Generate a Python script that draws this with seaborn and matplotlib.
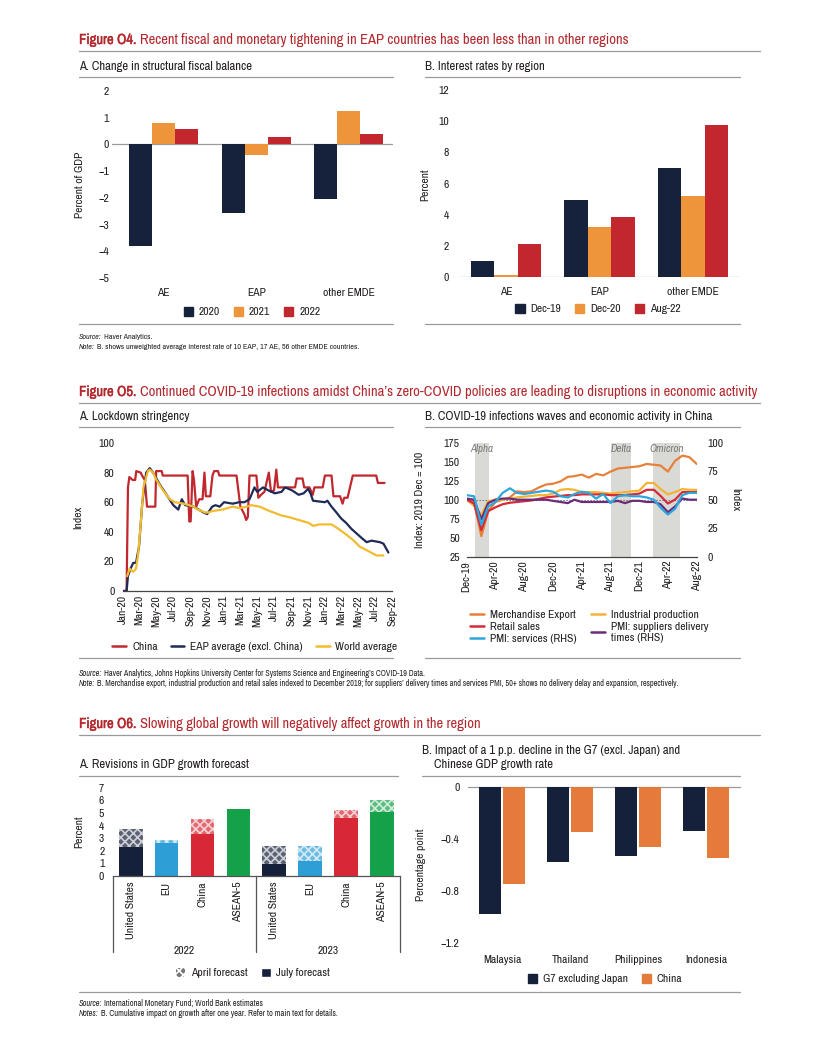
import matplotlib
matplotlib.use('Agg')
from matplotlib import pyplot as plt
from matplotlib import font_manager as fm
from matplotlib import patheffects
import matplotlib.dates as mdates
from matplotlib.patches import Patch
from matplotlib.lines import Line2D
import seaborn as sns
import pandas as pd
import numpy as np

W, H = 816, 1056

# ---- Figure O4 A: change in structural fiscal balance ----
o4a_regions = ['AE', 'EAP', 'other EMDE']
o4a_years = ['2020', '2021', '2022']
o4a_2020 = [-3.8, -2.55, -2.05]
o4a_2021 = [0.8, -0.38, 1.25]
o4a_2022 = [0.57, 0.28, 0.4]

# ---- Figure O4 B: interest rates by region ----
o4b_regions = ['AE', 'EAP', 'other EMDE']
o4b_dates = ['Dec-19', 'Dec-20', 'Aug-22']
o4b_dec19 = [1.0, 4.95, 7.0]
o4b_dec20 = [0.1, 3.2, 5.2]
o4b_aug22 = [2.1, 3.85, 9.75]

# ---- Figure O5 A: lockdown stringency ----
china_dates = ['2020-01-01', '2020-01-14', '2020-01-19', '2020-01-24', '2020-02-05', '2020-02-14',
               '2020-02-18', '2020-03-05', '2020-03-10', '2020-03-20', '2020-03-28', '2020-04-27',
               '2020-04-30', '2020-05-20', '2020-05-24', '2020-08-22', '2020-08-28', '2020-09-02',
               '2020-09-09', '2020-09-14', '2020-09-22', '2020-10-03', '2020-10-15', '2020-10-22',
               '2020-10-27', '2020-11-12', '2020-11-20', '2020-11-26', '2020-12-10', '2020-12-15',
               '2021-02-15', '2021-03-01', '2021-03-15', '2021-03-22', '2021-03-28', '2021-04-03',
               '2021-04-28', '2021-05-05', '2021-05-15', '2021-05-27', '2021-06-12', '2021-06-20',
               '2021-07-01', '2021-07-09', '2021-07-15', '2021-09-15', '2021-09-21', '2021-10-12',
               '2021-10-18', '2021-11-06', '2021-11-18', '2021-11-24', '2021-12-24', '2022-01-01',
               '2022-01-25', '2022-02-01', '2022-02-25', '2022-03-06', '2022-03-12', '2022-03-24',
               '2022-04-12', '2022-07-06', '2022-07-12', '2022-08-05']
china_vals = [0, 0, 70, 77, 75, 75, 81, 80, 78, 75, 57, 57, 81, 81, 78, 78, 47, 47, 81, 75, 57, 62,
              62, 80, 64, 64, 78, 81, 81, 78, 78, 57, 52, 48, 50, 78, 78, 63, 65, 67, 80, 67, 68, 82,
              70, 70, 76, 76, 70, 70, 65, 70, 70, 78, 78, 64, 64, 59, 63, 63, 78, 78, 73, 73]

eap_dates = ['2020-01-01', '2020-01-14', '2020-01-19', '2020-01-28', '2020-02-07', '2020-02-17',
             '2020-02-28', '2020-03-11', '2020-03-25', '2020-04-07', '2020-04-19', '2020-05-13',
             '2020-06-07', '2020-07-01', '2020-07-19', '2020-08-01', '2020-08-13', '2020-09-13',
             '2020-10-19', '2020-11-01', '2020-11-19', '2020-12-01', '2020-12-16', '2021-01-01',
             '2021-02-01', '2021-02-25', '2021-03-16', '2021-03-25', '2021-04-03', '2021-04-21',
             '2021-05-01', '2021-05-22', '2021-06-10', '2021-07-04', '2021-07-28', '2021-08-10',
             '2021-09-04', '2021-09-28', '2021-10-16', '2021-11-01', '2021-11-10', '2021-11-19',
             '2022-01-01', '2022-01-10', '2022-01-25', '2022-02-12', '2022-03-01', '2022-03-19',
             '2022-04-07', '2022-04-25', '2022-05-13', '2022-06-01', '2022-06-19', '2022-07-19',
             '2022-08-01', '2022-08-13', '2022-08-19']
eap_vals = [0, 0, 10, 15, 19, 19, 30, 60, 80, 83, 80, 72, 65, 58, 55, 62, 58, 57, 53, 52, 57, 58,
            57, 60, 59, 60, 60, 61, 62, 70, 67, 70, 68, 66, 67, 70, 68, 65, 66, 69, 66, 61, 60, 61,
            57, 53, 49, 46, 42, 39, 36, 33, 34, 33, 32, 28, 26]

world_dates = ['2020-01-16', '2020-01-25', '2020-02-07', '2020-02-17', '2020-02-25', '2020-03-07',
               '2020-03-15', '2020-03-31', '2020-04-07', '2020-04-19', '2020-05-01', '2020-05-25',
               '2020-06-19', '2020-07-07', '2020-08-07', '2020-09-13', '2020-09-28', '2020-10-25',
               '2020-11-05', '2020-11-19', '2020-12-25', '2021-02-01', '2021-02-25', '2021-03-25',
               '2021-04-10', '2021-05-10', '2021-06-15', '2021-07-28', '2021-08-22', '2021-09-28',
               '2021-11-04', '2021-11-19', '2021-12-13', '2022-01-25', '2022-02-19', '2022-03-13',
               '2022-04-13', '2022-05-07', '2022-06-07', '2022-07-07', '2022-08-01']
world_vals = [10, 15, 13, 15, 25, 50, 70, 81, 82, 80, 75, 68, 62, 60, 59, 57, 55, 53, 53, 54, 55,
              57, 56, 57, 58, 57, 54, 51, 50, 48, 46, 44, 45, 45, 42, 39, 34.5, 30, 27, 24, 24]

# ---- Figure O5 B: infections waves and activity (monthly, Dec-19 .. Aug-22) ----
o5b_months = pd.date_range('2019-12-01', '2022-08-01', freq='MS')
merch_export = [100, 98, 52, 85, 97, 100, 103, 111, 110, 111, 116, 120, 121, 124, 130, 131, 133,
                129, 134, 132, 137, 141, 142, 143, 144, 147, 146, 145, 137, 151, 158, 156, 147]
industrial_prod = [100, 92, 80, 98, 100, 100, 101, 103, 104, 105, 106, 106, 108, 113, 114, 113,
                   110, 110, 110, 109, 108, 109, 110, 111, 112, 122, 122, 114, 107, 110, 114, 113, 113]
retail_sales = [100, 95, 60, 85, 90, 94, 96, 97, 98, 99, 101, 103, 104, 105, 106, 106, 107, 107,
                107, 107, 106, 106, 106, 107, 108, 113, 113, 105, 95, 100, 110, 110, 110]
pmi_services = [54, 53, 28, 44, 48, 56, 60, 56, 55, 56, 57, 58, 57, 53, 52, 55, 57, 56, 51, 55,
                47, 53, 54, 53, 53, 52, 50, 43, 37, 42, 54, 56, 56]
pmi_delivery = [51, 50, 33, 47, 50, 51, 51, 50, 50, 50, 50, 50, 49, 48, 47, 50, 48, 48, 48, 48,
                48, 49, 47, 49, 49, 48, 48, 46, 39, 44, 51, 50, 50]
wave_names = ['Alpha', 'Delta', 'Omicron']
wave_start = ['2020-01-05', '2021-08-01', '2022-01-27']
wave_end = ['2020-03-04', '2021-10-28', '2022-05-22']

# ---- Figure O6 A: revisions in GDP growth forecast ----
o6a_countries = ['United States', 'EU', 'China', 'ASEAN-5']
o6a_years = ['2022', '2023']
july_2022 = [2.3, 2.6, 3.3, 5.35]
april_2022 = [3.75, 2.85, 4.5, 5.3]
july_2023 = [0.95, 1.2, 4.6, 5.1]
april_2023 = [2.35, 2.35, 5.2, 6.0]

# ---- Figure O6 B: impact of a 1 p.p. decline ----
o6b_countries = ['Malaysia', 'Thailand', 'Philippines', 'Indonesia']
g7_impact = [-0.98, -0.58, -0.53, -0.34]
china_impact = [-0.75, -0.35, -0.46, -0.55]

TITLE_RED = '#b3282d'
TEXT = '#231f20'
RULE = '#9a9a9a'
NAVY = '#16213b'
ORANGE = '#ee943a'
RED = '#c1272d'


def pick_font():
    # the source uses a narrow sans; take a condensed face when one is installed
    entries = fm.fontManager.ttflist
    for f in entries:
        if ('Narrow' in f.name or 'Condensed' in f.name) and 'CJK' not in f.name:
            return f.name, 'normal'
    for pref in ['DejaVu Sans', 'Noto Sans', 'Open Sans', 'Roboto', 'Liberation Sans']:
        for f in entries:
            if f.name == pref and str(f.stretch) in ('condensed', 'semi-condensed', 'extra-condensed'):
                return pref, f.stretch
    return 'Liberation Sans', 'normal'


FONT, STRETCH = pick_font()

sns.set_theme(style='white')
plt.rcParams['font.family'] = [FONT, 'DejaVu Sans']
plt.rcParams['font.stretch'] = STRETCH
plt.rcParams['text.color'] = TEXT
plt.rcParams['axes.labelcolor'] = TEXT
plt.rcParams['xtick.color'] = TEXT
plt.rcParams['ytick.color'] = TEXT
plt.rcParams['hatch.linewidth'] = 1.2

fig = plt.figure(figsize=(W / 100, H / 100), dpi=100)
renderer = fig.canvas.get_renderer()


def measure(s, size, **kw):
    t = fig.text(0, 0, s, fontsize=size, **kw)
    w = t.get_window_extent(renderer=renderer).width
    t.remove()
    return w


# scale fonts so text widths follow the reference
S_TITLE = 678 / measure('Figure O5. Continued COVID-19 infections amidst China\u2019s zero-COVID policies '
                        'are leading to disruptions in economic activity', 10)
S_BODY = 174 / measure('A. Change in structural fiscal balance', 9)
FS_TITLE = 10 * S_TITLE
FS_PANEL = 9 * S_BODY
FS_TICK = 8.2 * S_BODY
BOLDER = [patheffects.withStroke(linewidth=0.3, foreground=TITLE_RED)]


def add_ax(x0, y0, x1, y1):
    return fig.add_axes([x0 / W, 1 - y1 / H, (x1 - x0) / W, (y1 - y0) / H])


def ftext(x, y, s, **kw):
    return fig.text(x / W, 1 - y / H, s, **kw)


def rule(x0, x1, y, lw=0.9):
    fig.add_artist(Line2D([x0 / W, x1 / W], [1 - y / H, 1 - y / H], color=RULE, lw=lw))


def two_part(x, y, first, rest, size, color, first_kw, gap=3):
    t = ftext(x, y, first, fontsize=size, color=color, va='center', **first_kw)
    bb = t.get_window_extent(renderer=renderer)
    ftext(bb.x1 + gap, y, rest, fontsize=size, color=color, va='center')


def fig_title(y, label, rest):
    two_part(79, y, label, rest, FS_TITLE, TITLE_RED, {'fontweight': 'bold', 'path_effects': BOLDER}, gap=4)
    rule(79, 760, y + 11)


def source(y, label, rest, size):
    two_part(79, y, label, rest, size, TEXT, {'style': 'italic'}, gap=2)


def note_size(text, target):
    return 6 * target / measure(text, 6)


def label_coords(ax, x_px, y_px, box):
    x0, y0, x1, y1 = box
    ax.yaxis.set_label_coords((x_px - x0) / (x1 - x0), (y1 - y_px) / (y1 - y0))


def square_legend(handles, cx, y, spacing=1.2):
    fig.legend(handles=handles, loc='center', bbox_to_anchor=(cx / W, 1 - y / H), ncol=len(handles),
               frameon=False, fontsize=FS_TICK, handlelength=0.8, handleheight=0.8, handletextpad=0.5,
               columnspacing=spacing, borderpad=0)


# ================= Figure O4 =================
fig_title(40, 'Figure O4.', 'Recent fiscal and monetary tightening in EAP countries has been less than in other regions')
ftext(79, 66, 'A. Change in structural fiscal balance', fontsize=FS_PANEL, va='center')
rule(79, 393, 77)
ftext(425, 66, 'B. Interest rates by region', fontsize=FS_PANEL, va='center')
rule(425, 740, 77)

box = (112, 91, 393, 278)
ax = add_ax(*box)
df_o4a = pd.DataFrame({'region': o4a_regions * 3,
                       'year': np.repeat(o4a_years, 3),
                       'value': o4a_2020 + o4a_2021 + o4a_2022})
sns.barplot(data=df_o4a, x='region', y='value', hue='year', palette=[NAVY, ORANGE, RED],
            width=0.75, gap=0, saturation=1, linewidth=0, legend=False, ax=ax)
ax.set_xlim(-0.56, 2.48)
ax.set_ylim(-5, 2)
ax.set_yticks(range(-5, 3))
ax.axhline(0, color=RULE, lw=0.9, zorder=0)
sns.despine(ax=ax, left=True, bottom=True)
ax.tick_params(length=0, labelsize=FS_TICK)
ax.tick_params(axis='x', pad=7)
ax.tick_params(axis='y', pad=2)
ax.set_xlabel('')
ax.set_ylabel('Percent of GDP', fontsize=FS_TICK)
label_coords(ax, 85, 185, box)
square_legend([Patch(color=c, label=l) for c, l in zip([NAVY, ORANGE, RED], o4a_years)], 252, 312)
rule(79, 393, 324)

box = (459, 90, 740, 277)
ax = add_ax(*box)
df_o4b = pd.DataFrame({'region': o4b_regions * 3,
                       'date': np.repeat(o4b_dates, 3),
                       'value': o4b_dec19 + o4b_dec20 + o4b_aug22})
sns.barplot(data=df_o4b, x='region', y='value', hue='date', palette=[NAVY, ORANGE, RED],
            width=0.75, gap=0, saturation=1, linewidth=0, legend=False, ax=ax)
ax.set_xlim(-0.5, 2.5)
ax.set_ylim(0, 12)
ax.set_yticks(range(0, 13, 2))
ax.axhline(0, color=RULE, lw=0.9, zorder=0)
sns.despine(ax=ax, left=True, bottom=True)
ax.tick_params(length=0, labelsize=FS_TICK)
ax.tick_params(axis='x', pad=7)
ax.tick_params(axis='y', pad=7)
ax.set_xlabel('')
ax.set_ylabel('Percent', fontsize=FS_TICK)
label_coords(ax, 430, 185, box)
square_legend([Patch(color=c, label=l) for c, l in zip([NAVY, ORANGE, RED], o4b_dates)], 598, 309)
rule(425, 740, 324)

o4_note = 'B. shows unweighted average interest rate of 10 EAP, 17 AE, 56 other EMDE countries.'
fs_note = note_size('Note: ' + o4_note, 279)
source(337, 'Source:', 'Haver Analytics.', fs_note)
source(347, 'Note:', o4_note, fs_note)

# ================= Figure O5 =================
fig_title(392, 'Figure O5.', 'Continued COVID-19 infections amidst China\u2019s zero-COVID policies are leading to disruptions in economic activity')
ftext(79, 417, 'A. Lockdown stringency', fontsize=FS_PANEL, va='center')
rule(79, 393, 427)
ftext(425, 417, 'B. COVID-19 infections waves and economic activity in China', fontsize=FS_PANEL, va='center')
rule(425, 740, 427)

o5a_colors = {'China': '#c1272d', 'EAP average (excl. China)': '#1f2a57', 'World average': '#f2bb30'}
df_o5a = pd.concat([
    pd.DataFrame({'date': pd.to_datetime(china_dates), 'value': china_vals, 'series': 'China'}),
    pd.DataFrame({'date': pd.to_datetime(eap_dates), 'value': eap_vals, 'series': 'EAP average (excl. China)'}),
    pd.DataFrame({'date': pd.to_datetime(world_dates), 'value': world_vals, 'series': 'World average'}),
])
box = (123, 443, 392, 591)
ax = add_ax(*box)
sns.lineplot(data=df_o5a, x='date', y='value', hue='series', palette=o5a_colors, estimator=None,
             linewidth=1.6, legend=False, ax=ax)
ax.set_xlim(pd.Timestamp('2020-01-01'), pd.Timestamp('2022-09-01'))
ax.set_ylim(0, 100)
ax.set_yticks(range(0, 101, 20))
ax.xaxis.set_major_locator(mdates.MonthLocator(bymonth=[1, 3, 5, 7, 9, 11]))
ax.xaxis.set_major_formatter(mdates.DateFormatter('%b-%y'))
sns.despine(ax=ax, left=True)
ax.spines['bottom'].set_color('#444444')
ax.spines['bottom'].set_linewidth(0.9)
ax.tick_params(length=0, labelsize=FS_TICK)
ax.tick_params(axis='x', rotation=90, pad=3)
ax.tick_params(axis='y', pad=6)
ax.set_xlabel('')
ax.set_ylabel('Index', fontsize=FS_TICK)
label_coords(ax, 83, 517, box)
fig.legend(handles=[Line2D([], [], color=c, lw=1.8, label=l) for l, c in o5a_colors.items()],
           loc='center', bbox_to_anchor=(255 / W, 1 - 647 / H), ncol=3, frameon=False, fontsize=FS_TICK,
           handlelength=1.2, handletextpad=0.5, columnspacing=1.1, borderpad=0)
rule(79, 393, 658)

box = (466.7, 442.7, 696.7, 556.7)
ax = add_ax(*box)
ax2 = ax.twinx()
for name, s, e in zip(wave_names, wave_start, wave_end):
    s, e = pd.Timestamp(s), pd.Timestamp(e)
    ax.axvspan(s, e, color='#d9d9d5', lw=0, zorder=0)
    ax.text(s + (e - s) / 2, 167, name, style='italic', color='#7a7a7a', ha='center', va='center',
            fontsize=FS_TICK * 0.95)
ax.axhline(100, ls=(0, (1.2, 1.5)), color='#6d6d6d', lw=0.8, zorder=1)
left_colors = {'Merchandise Export': '#e8803a', 'Industrial production': '#f5b335', 'Retail sales': '#d42b37'}
right_colors = {'PMI: suppliers delivery\ntimes (RHS)': '#6a2c7a', 'PMI: services (RHS)': '#2ca6dc'}
df_left = pd.concat([
    pd.DataFrame({'month': o5b_months, 'value': merch_export, 'series': 'Merchandise Export'}),
    pd.DataFrame({'month': o5b_months, 'value': industrial_prod, 'series': 'Industrial production'}),
    pd.DataFrame({'month': o5b_months, 'value': retail_sales, 'series': 'Retail sales'}),
])
df_right = pd.concat([
    pd.DataFrame({'month': o5b_months, 'value': pmi_delivery, 'series': 'PMI: suppliers delivery\ntimes (RHS)'}),
    pd.DataFrame({'month': o5b_months, 'value': pmi_services, 'series': 'PMI: services (RHS)'}),
])
sns.lineplot(data=df_left, x='month', y='value', hue='series', palette=left_colors, estimator=None,
             linewidth=1.6, legend=False, ax=ax)
sns.lineplot(data=df_right, x='month', y='value', hue='series', palette=right_colors, estimator=None,
             linewidth=1.6, legend=False, ax=ax2)
ax.set_xlim(o5b_months[0], o5b_months[-1])
ax.set_ylim(25, 175)
ax.set_yticks(range(25, 176, 25))
ax2.set_ylim(0, 100)
ax2.set_yticks(range(0, 101, 25))
ax.xaxis.set_major_locator(mdates.MonthLocator(bymonth=[4, 8, 12]))
ax.xaxis.set_major_formatter(mdates.DateFormatter('%b-%y'))
for a in (ax, ax2):
    for side in ('left', 'right', 'top'):
        a.spines[side].set_visible(False)
    a.tick_params(length=0, labelsize=FS_TICK)
ax2.spines['bottom'].set_visible(False)
ax.spines['bottom'].set_color('#444444')
ax.spines['bottom'].set_linewidth(0.9)
ax.tick_params(axis='x', rotation=90, pad=3)
ax.tick_params(axis='y', pad=5)
ax2.tick_params(axis='y', pad=8)
ax.set_xlabel('')
ax.set_ylabel('Index: 2019 Dec = 100', fontsize=FS_TICK)
label_coords(ax, 425, 500, box)
ax2.set_xlabel('')
ax2.set_ylabel('Index', fontsize=FS_TICK, rotation=270, va='center')
ax2.yaxis.set_label_coords((735 - box[0]) / (box[2] - box[0]), 0.5)
legend_order = ['Merchandise Export', 'Retail sales', 'PMI: services (RHS)',
                'Industrial production', 'PMI: suppliers delivery\ntimes (RHS)']
all_colors = {**left_colors, **right_colors}
fig.legend(handles=[Line2D([], [], color=all_colors[l], lw=1.8, label=l) for l in legend_order],
           loc='upper left', bbox_to_anchor=(464 / W, 1 - 604 / H), ncol=2, frameon=False, fontsize=FS_TICK,
           handlelength=1.2, handletextpad=0.5, columnspacing=1.3, labelspacing=0.15, borderpad=0)
rule(425, 740, 658)

o5_note = ('B. Merchandise export, industrial production and retail sales indexed to December 2019; for '
           'suppliers\u2019 delivery times and services PMI, 50+ shows no delivery delay and expansion, respectively.')
fs_note = note_size('Note: ' + o5_note, 602)
source(674, 'Source:', 'Haver Analytics, Johns Hopkins University Center for Systems Science and Engineering\u2019s COVID-19 Data.', fs_note)
source(684, 'Note:', o5_note, fs_note)

# ================= Figure O6 =================
fig_title(724, 'Figure O6.', 'Slowing global growth will negatively affect growth in the region')
ftext(79, 765, 'A. Revisions in GDP growth forecast', fontsize=FS_PANEL, va='center')
rule(79, 398, 776)
ftext(422, 751, 'B. Impact of a 1 p.p. decline in the G7 (excl. Japan) and', fontsize=FS_PANEL, va='center')
ftext(434, 765, 'Chinese GDP growth rate', fontsize=FS_PANEL, va='center')
rule(422, 740, 776)

o6a_colors = {'United States': '#15203a', 'EU': '#2d9fd6', 'China': '#d82735', 'ASEAN-5': '#15a14a'}
slots = [f'{c} {y}' for y in o6a_years for c in o6a_countries]
df_o6a = pd.DataFrame({'slot': slots, 'country': o6a_countries * 2,
                       'april': april_2022 + april_2023, 'july': july_2022 + july_2023})
box = (112.7, 787.7, 400, 876)
ax = add_ax(*box)
sns.barplot(data=df_o6a, x='slot', y='april', hue='country', palette=o6a_colors, order=slots,
            dodge=False, width=0.66, saturation=1, legend=False, ax=ax)
for p in ax.patches:
    p.set_hatch('xxxx')
    p.set_edgecolor('white')
    p.set_linewidth(0)
    p.set_alpha(0.7)
sns.barplot(data=df_o6a, x='slot', y='july', hue='country', palette=o6a_colors, order=slots,
            dodge=False, width=0.66, saturation=1, linewidth=0, legend=False, ax=ax)
ax.set_xlim(-0.5, 7.5)
ax.set_ylim(0, 7)
ax.set_yticks(range(0, 8))
ax.set_xticks(range(8))
ax.set_xticklabels(o6a_countries * 2, rotation=90, va='top')
sns.despine(ax=ax, left=True)
ax.spines['bottom'].set_color('#555555')
ax.spines['bottom'].set_linewidth(0.9)
ax.tick_params(length=0, labelsize=FS_TICK)
ax.tick_params(axis='x', pad=4)
ax.tick_params(axis='y', pad=6)
ax.set_xlabel('')
ax.set_ylabel('Percent', fontsize=FS_TICK)
label_coords(ax, 84, 832, box)
span = 876 - 787.7
for xs in (-0.5, 3.5, 7.5):
    ax.plot([xs, xs], [0, -(952 - 876) / span], color='#555555', lw=0.9,
            transform=ax.get_xaxis_transform(), clip_on=False)
for i, yr in enumerate(o6a_years):
    ax.text(1.5 + 4 * i, -(951 - 876) / span, yr, transform=ax.get_xaxis_transform(),
            ha='center', va='center', fontsize=FS_TICK)
square_legend([Patch(facecolor='#777777', hatch='xxxx', edgecolor='white', lw=0, label='April forecast'),
               Patch(facecolor='#15203a', label='July forecast')], 253, 973)

box = (468, 786.7, 740, 942.7)
ax = add_ax(*box)
df_o6b = pd.DataFrame({'country': o6b_countries * 2,
                       'shock': np.repeat(['G7 excluding Japan', 'China'], 4),
                       'value': g7_impact + china_impact})
sns.barplot(data=df_o6b, x='country', y='value', hue='shock', palette=['#15203a', '#e57b3b'],
            width=0.72, gap=0.1, saturation=1, linewidth=0, legend=False, ax=ax)
ax.set_xlim(-0.5, 3.5)
ax.set_ylim(-1.2, 0)
ax.set_yticks([0, -0.4, -0.8, -1.2])
ax.set_yticklabels(['0', '\u22120.4', '\u22120.8', '\u22121.2'])
ax.axhline(0, color=RULE, lw=0.9, clip_on=False, zorder=0)
sns.despine(ax=ax, left=True, bottom=True)
ax.tick_params(length=0, labelsize=FS_TICK)
ax.tick_params(axis='x', pad=9)
ax.tick_params(axis='y', pad=6)
ax.set_xlabel('')
ax.set_ylabel('Percentage point', fontsize=FS_TICK)
label_coords(ax, 426, 865, box)
square_legend([Patch(color='#15203a', label='G7 excluding Japan'), Patch(color='#e57b3b', label='China')],
              605, 979)

rule(79, 740, 992)
o6_note = 'B. Cumulative impact on growth after one year. Refer to main text for details.'
fs_note = note_size('Notes: ' + o6_note, 258)
source(1004, 'Source:', 'International Monetary Fund; World Bank estimates', fs_note)
source(1013, 'Notes:', o6_note, fs_note)

fig.savefig('out.png', dpi=100)
plt.close(fig)
